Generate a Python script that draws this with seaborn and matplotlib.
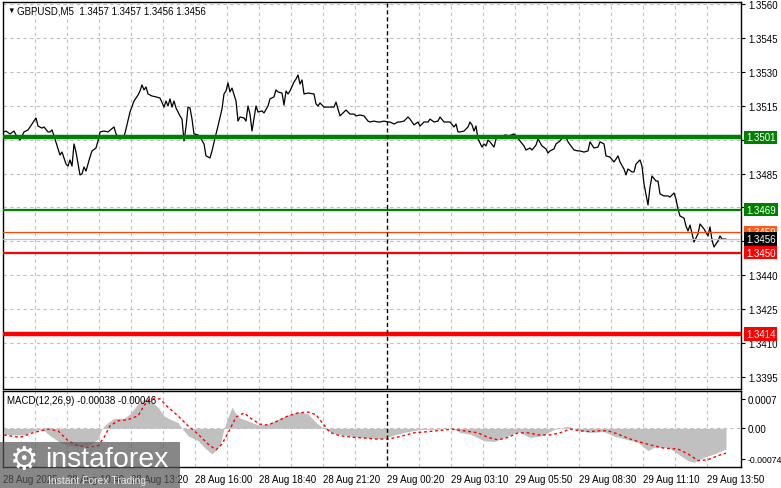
import matplotlib
matplotlib.use("Agg")
import matplotlib.pyplot as plt
from matplotlib.patches import Rectangle
import seaborn as sns

# GBPUSD M5 close prices (bar number counted from the left edge, close)
price_bar = [0, 1, 3, 5, 6, 8, 10, 12, 14, 16,
             17, 19, 20, 22, 23, 24, 25, 27, 28, 29,
             31, 32, 33, 34, 35, 36, 38, 39, 40, 41,
             43, 44, 46, 47, 48, 50, 52, 55, 56, 58,
             60, 61, 63, 65, 67, 68, 69, 70, 71, 72,
             74, 76, 78, 80, 81, 82, 83, 84, 85, 86,
             88, 89, 90, 91, 92, 93, 94, 95, 97, 98,
             100, 101, 103, 104, 106, 107, 109, 110, 111, 112,
             113, 114, 116, 117, 118, 120, 121, 122, 123, 124,
             126, 127, 129, 130, 132, 133, 135, 136, 137, 139,
             140, 141, 142, 143, 145, 146, 147, 148, 149, 150,
             152, 155, 156, 157, 158, 160, 162, 165, 166, 168,
             170, 171, 173, 175, 176, 178, 180, 182, 183, 185,
             187, 188, 190, 192, 193, 195, 197, 198, 200, 202,
             203, 205, 207, 208, 210, 212, 213, 215, 217, 218,
             220, 222, 223, 225, 226, 227, 228, 230, 232, 233,
             234, 235, 236, 237, 239, 240, 241, 242, 243, 245,
             246, 247, 249, 251, 252, 255, 256, 258, 260, 261,
             263, 264, 266, 267, 269, 271, 272, 273, 275, 276,
             278, 280, 281, 282, 285, 287, 288, 290, 292, 293,
             295, 297, 298, 300, 301, 303, 305, 306, 307, 308,
             310, 311, 312, 314, 315, 316, 318, 319, 320, 322,
             323, 324, 326, 327, 328, 330, 332, 333, 335, 336,
             337, 338, 340, 341, 342, 343, 345, 347, 348, 350,
             352, 353, 354, 355, 357, 358, 359, 361]
price_close = [1.35034, 1.35038, 1.35025, 1.35038, 1.35021, 1.34998, 1.35034, 1.35043, 1.35069, 1.35096,
               1.35060, 1.35051, 1.35056, 1.35034, 1.35034, 1.35043, 1.35016, 1.34959, 1.34932, 1.34945,
               1.34892, 1.34883, 1.34910, 1.34883, 1.34981, 1.34945, 1.34844, 1.34848, 1.34879, 1.34861,
               1.34923, 1.34950, 1.34963, 1.34994, 1.35034, 1.35038, 1.35034, 1.35056, 1.35025, 1.35003,
               1.35012, 1.35047, 1.35122, 1.35171, 1.35197, 1.35215, 1.35242, 1.35220, 1.35233, 1.35202,
               1.35193, 1.35189, 1.35184, 1.35144, 1.35171, 1.35149, 1.35180, 1.35144, 1.35171, 1.35140,
               1.35105, 1.35091, 1.34994, 1.35056, 1.35144, 1.35140, 1.35091, 1.35025, 1.35021, 1.35012,
               1.34981, 1.34928, 1.34919, 1.34950, 1.35025, 1.35060, 1.35136, 1.35202, 1.35215, 1.35251,
               1.35211, 1.35228, 1.35171, 1.35082, 1.35100, 1.35096, 1.35082, 1.35149, 1.35113, 1.35038,
               1.35149, 1.35122, 1.35127, 1.35118, 1.35149, 1.35180, 1.35189, 1.35220, 1.35211, 1.35206,
               1.35153, 1.35215, 1.35202, 1.35215, 1.35255, 1.35268, 1.35286, 1.35246, 1.35264, 1.35202,
               1.35206, 1.35202, 1.35158, 1.35149, 1.35162, 1.35144, 1.35144, 1.35144, 1.35166, 1.35105,
               1.35122, 1.35131, 1.35113, 1.35113, 1.35105, 1.35109, 1.35105, 1.35082, 1.35078, 1.35082,
               1.35078, 1.35078, 1.35082, 1.35078, 1.35078, 1.35069, 1.35078, 1.35078, 1.35082, 1.35100,
               1.35091, 1.35065, 1.35078, 1.35060, 1.35078, 1.35078, 1.35091, 1.35078, 1.35082, 1.35100,
               1.35078, 1.35078, 1.35078, 1.35056, 1.35069, 1.35034, 1.35034, 1.35038, 1.35056, 1.35078,
               1.35065, 1.35038, 1.35060, 1.35003, 1.34967, 1.34981, 1.34972, 1.34998, 1.34990, 1.34967,
               1.35003, 1.35007, 1.35016, 1.35021, 1.35016, 1.35025, 1.35016, 1.34994, 1.34972, 1.34954,
               1.34963, 1.34954, 1.34976, 1.35003, 1.34972, 1.34959, 1.34941, 1.34950, 1.34959, 1.34981,
               1.34994, 1.35016, 1.35012, 1.34990, 1.34954, 1.34950, 1.34950, 1.34945, 1.34950, 1.34990,
               1.34963, 1.34967, 1.34990, 1.34981, 1.34928, 1.34923, 1.34901, 1.34914, 1.34928, 1.34901,
               1.34870, 1.34844, 1.34870, 1.34857, 1.34857, 1.34892, 1.34910, 1.34883, 1.34804, 1.34711,
               1.34790, 1.34839, 1.34817, 1.34817, 1.34760, 1.34751, 1.34751, 1.34746, 1.34764, 1.34737,
               1.34693, 1.34662, 1.34653, 1.34618, 1.34596, 1.34622, 1.34547, 1.34583, 1.34627, 1.34605,
               1.34574, 1.34614, 1.34556, 1.34525, 1.34552, 1.34574, 1.34560, 1.34560]

# MACD(12,26,9) main histogram
hist_bar = [0, 5, 10, 14, 17, 20, 23, 28, 33, 38,
            43, 47, 49, 52, 55, 60, 63, 67, 70, 73,
            77, 80, 83, 87, 89, 92, 97, 101, 104, 108,
            110, 112, 114, 117, 122, 127, 132, 137, 142, 147,
            152, 156, 160, 165, 172, 178, 183, 190, 195, 202,
            208, 217, 224, 228, 233, 240, 245, 252, 257, 263,
            269, 275, 282, 287, 293, 300, 305, 310, 317, 322,
            325, 332, 337, 342, 345, 350, 355, 361]
hist_vals = [-0.00014, -0.00016, -0.00016, -0.00008, -0.00003, -0.00005, -0.00018, -0.00034, -0.00042, -0.00044,
             -0.00040, -0.00026, 0.0, 0.00014, 0.00024, 0.00024, 0.00035, 0.00059, 0.00071, 0.00067,
             0.00051, 0.00030, 0.00022, 0.00014, 0.0, -0.00018, -0.00030, -0.00050, -0.00062, -0.00042,
             -0.00001, 0.00027, 0.00051, 0.00027, 0.00018, 0.00008, 0.00010, 0.00022, 0.00032, 0.00040,
             0.00035, 0.00014, -0.00001, -0.00012, -0.00018, -0.00022, -0.00024, -0.00025, -0.00016, -0.00008,
             -0.00003, -0.00002, 0.0, -0.00010, -0.00014, -0.00030, -0.00032, -0.00018, -0.00008, -0.00022,
             -0.00018, -0.00003, 0.00005, -0.00005, -0.00010, -0.00008, -0.00019, -0.00025, -0.00034, -0.00054,
             -0.00046, -0.00046, -0.00062, -0.00078, -0.00082, -0.00070, -0.00062, -0.00050]

# MACD signal line
sig_bar = [0, 8, 15, 22, 27, 32, 37, 42, 47, 50,
           53, 57, 62, 67, 70, 73, 78, 82, 87, 92,
           97, 102, 106, 109, 113, 116, 120, 124, 128, 132,
           137, 142, 147, 152, 156, 159, 163, 168, 175, 182,
           185, 192, 198, 205, 212, 218, 224, 230, 237, 242,
           247, 252, 257, 262, 267, 273, 278, 283, 288, 293,
           298, 302, 307, 312, 317, 323, 330, 337, 342, 347,
           352, 357, 361]
sig_vals = [-0.00016, -0.00022, -0.00010, -0.00002, -0.00006, -0.00030, -0.00042, -0.00046, -0.00042, -0.00022,
            0.00006, 0.00018, 0.00021, 0.00030, 0.00055, 0.00071, 0.00071, 0.00051, 0.00030, 0.00006,
            -0.00014, -0.00038, -0.00052, -0.00038, -0.00002, 0.00027, 0.00037, 0.00022, 0.00010, 0.00008,
            0.00018, 0.00030, 0.00037, 0.00039, 0.00033, 0.00014, -0.00010, -0.00018, -0.00022, -0.00024,
            -0.00026, -0.00026, -0.00020, -0.00011, -0.00008, -0.00005, -0.00002, -0.00006, -0.00011, -0.00022,
            -0.00028, -0.00022, -0.00011, -0.00011, -0.00016, -0.00016, -0.00011, -0.00002, -0.00006, -0.00008,
            -0.00006, -0.00006, -0.00014, -0.00024, -0.00032, -0.00040, -0.00048, -0.00050, -0.00062, -0.00078,
            -0.00076, -0.00066, -0.00060]

# horizontal levels drawn on the chart
levels = [1.3501, 1.3469, 1.3459, 1.3456, 1.3450, 1.3414]
level_colors = ["#008000", "#008000", "#FF4500", "#C0C0C0", "#FF0000", "#FF0000"]
level_widths = [3.2, 1.6, 0.9, 0.9, 1.6, 3.2]
tag_colors = ["#008000", "#008000", "#FF5A1A", "#000000", "#FF0000", "#FF0000"]

price_ticks = [1.3395, 1.3410, 1.3425, 1.3440, 1.3455, 1.3470, 1.3485,
               1.3500, 1.3515, 1.3530, 1.3545, 1.3560]
price_tick_labels = ["1.3395", "1.3410", "1.3425", "1.3440", "", "", "1.3485",
                     "", "1.3515", "1.3530", "1.3545", "1.3560"]
time_labels = ["28 Aug 2025", "28 Aug 10:40", "28 Aug 13:20", "28 Aug 16:00",
               "28 Aug 18:40", "28 Aug 21:20", "29 Aug 00:20", "29 Aug 03:10",
               "29 Aug 05:50", "29 Aug 08:30", "29 Aug 11:10", "29 Aug 13:50"]
macd_ticks = [0.0007, 0.0, -0.00074]
macd_tick_labels = ["0.0007", "0.00", "-0.00074"]

W, H = 781, 489
sns.set_theme(style="white")
plt.rcParams["font.family"] = ["Liberation Sans", "DejaVu Sans"]

fig = plt.figure(figsize=(W / 100, H / 100), dpi=100)
ax = fig.add_axes([3 / W, 1 - 390 / H, 738 / W, 387 / H])
ax2 = fig.add_axes([3 / W, 1 - 468 / H, 738 / W, 76 / H])

grid_kw = dict(color="#c0c0c0", lw=0.8, ls=(0, (3, 3)))
grid_x = [16 * k - 0.5 for k in range(1, 23)]
label_x = [32 * k - 0.5 for k in range(12)]
sep_x = 191.5

for a in (ax, ax2):
    a.set_xlim(-0.5, 368.5)
    for gx in grid_x:
        if gx != sep_x:
            a.axvline(gx, zorder=0, **grid_kw)
    a.axvline(sep_x, color="black", lw=1, ls=(0, (3, 2)), zorder=4)
    for s in a.spines.values():
        s.set_color("black")
        s.set_linewidth(1)

# main price panel
ax.set_ylim(1.338969, 1.356088)
for t in price_ticks:
    ax.axhline(t, zorder=0, **grid_kw)
sns.lineplot(x=price_bar, y=price_close, ax=ax, color="black", lw=0.9, zorder=2)
for lv, c, w in zip(levels, level_colors, level_widths):
    ax.axhline(lv, color=c, lw=w, zorder=3)

ax.yaxis.tick_right()
ax.set_yticks(price_ticks)
ax.set_yticklabels(price_tick_labels)
ax.set_xticks([])
ax.tick_params(axis="y", labelsize=7, length=3, width=0.8, pad=2, colors="black", direction="out")
ax.set_xlabel("")
ax.set_ylabel("")

for i, (lv, c) in enumerate(zip(levels, tag_colors)):
    ax.annotate(f"{lv:.4f}", xy=(1, lv), xycoords=("axes fraction", "data"),
                xytext=(5, 0), textcoords="offset pixels", ha="left", va="center",
                fontsize=7, color="white", annotation_clip=False, zorder=10 + i,
                bbox=dict(boxstyle="square,pad=0.18", fc=c, ec="none"))

# MACD panel
ax2.set_ylim(-0.000935, 0.000901)
ax2.axhline(0, zorder=0, **grid_kw)
ax2.fill_between(hist_bar, 0, hist_vals, color="#c0c0c0", lw=0, zorder=1)
sns.lineplot(x=sig_bar, y=sig_vals, ax=ax2, color="red", lw=1,
             linestyle=(0, (2, 2)), zorder=3)
ax2.yaxis.tick_right()
ax2.set_yticks(macd_ticks)
ax2.set_yticklabels(macd_tick_labels)
ax2.set_xticks(label_x)
ax2.set_xticklabels(time_labels)
for lab in ax2.get_xticklabels():
    lab.set_ha("left")
ax2.tick_params(axis="y", labelsize=7, length=3, width=0.8, pad=2, colors="black", direction="out")
ax2.tick_params(axis="x", labelsize=7, length=3, width=0.8, pad=2, colors="black", direction="out")
ax2.get_yticklabels()[2].set_fontsize(6.3)
ax2.set_xlabel("")
ax2.set_ylabel("")

# header texts
fig.text(7 / W, 1 - 11 / H, "\u25bc", fontsize=5.5, va="center", color="black")
fig.text(17 / W, 1 - 11 / H, "GBPUSD,M5  1.3457 1.3457 1.3456 1.3456",
         fontsize=7, va="center", color="black")
fig.text(7 / W, 1 - 401 / H, "MACD(12,26,9) -0.00038 -0.00046",
         fontsize=7, va="center", color="black", zorder=6)

# watermark
fig.patches.append(Rectangle((0, 0), 180 / W, 46 / H, transform=fig.transFigure,
                             fc="#555555", ec="none", alpha=0.7, zorder=20))
fig.text(24 / W, 1 - 461 / H, "\u2699", fontsize=23, ha="center", va="center",
         color="white", family=["DejaVu Sans"], zorder=21)
fig.text(45 / W, 1 - 460 / H, "instaforex", fontsize=20.5, va="center",
         color="white", zorder=21)
fig.text(48 / W, 1 - 481 / H, "Instant Forex Trading", fontsize=7.5, va="center",
         color="#e6e6e6", zorder=21)

fig.savefig("out.png", dpi=100)
